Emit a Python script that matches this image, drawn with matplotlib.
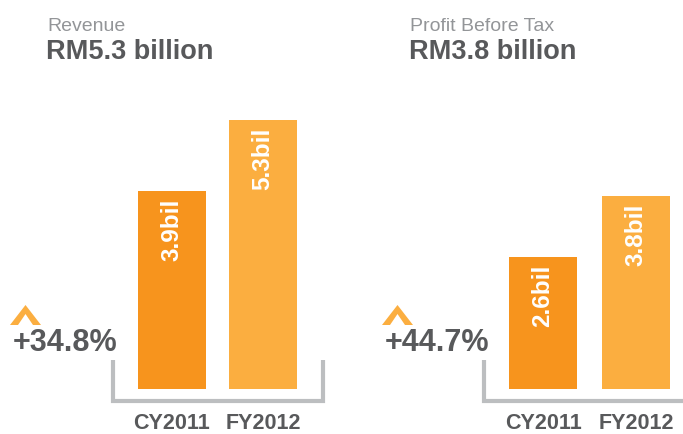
import matplotlib
matplotlib.use("Agg")
import matplotlib.pyplot as plt
from matplotlib.patches import Polygon

# Data
periods = ["CY2011", "FY2012"]
revenue = [3.9, 5.3]
pbt = [2.6, 3.8]
revenue_labels = ["3.9bil", "5.3bil"]
pbt_labels = ["2.6bil", "3.8bil"]
growth = ["+34.8%", "+44.7%"]
titles = ["Revenue", "Profit Before Tax"]
headlines = ["RM5.3 billion", "RM3.8 billion"]

W, H = 683, 434
DARK = "#58595b"
LIGHT = "#939598"
GREY = "#bcbec0"
BAR_COLORS = ["#f7941d", "#fbae40"]
FONT = "Liberation Sans"

plt.rcParams["font.family"] = FONT

fig = plt.figure(figsize=(W / 100, H / 100), dpi=100)

PX_PER_BIL = 50.7
BASE_Y = 389  # pixel row of the bar baseline
TOP_Y = 100


def panel(left_px, right_px, first_px, step_px, values, labels):
    ax = fig.add_axes([left_px / W, (H - BASE_Y) / H,
                       (right_px - left_px) / W, (BASE_Y - TOP_Y) / H])
    ax.set_xlim(-(first_px - left_px) / step_px, (right_px - first_px) / step_px)
    ax.set_ylim(0, (BASE_Y - TOP_Y) / PX_PER_BIL)
    bars = ax.bar(range(len(values)), values, width=68 / step_px,
                  color=BAR_COLORS)
    for b, lab in zip(bars, labels):
        ax.annotate(lab, (b.get_x() + b.get_width() / 2, b.get_height()),
                    xytext=(0, -7), textcoords="offset pixels",
                    rotation=90, ha="center", va="top", color="white",
                    fontsize=17.5, fontweight="bold")
    ax.set_xticks(range(len(periods)), periods)
    ax.tick_params(axis="x", length=0, pad=17, labelsize=15.5,
                   labelcolor=DARK)
    for lab in ax.get_xticklabels():
        lab.set_fontweight("bold")
    ax.set_yticks([])
    for s in ax.spines.values():
        s.set_visible(False)
    ax.patch.set_visible(False)
    return ax


panel(100, 340, 172, 91, revenue, revenue_labels)
panel(470, 683, 543, 93, pbt, pbt_labels)

# overlay in pixel coordinates for headings, brackets and growth figures
ov = fig.add_axes([0, 0, 1, 1])
ov.set_xlim(0, W)
ov.set_ylim(H, 0)
ov.axis("off")

for x0, t, h in zip([47, 410], titles, headlines):
    ov.text(x0, 31, t, fontsize=14, color=LIGHT, va="baseline")
    ov.text(x0 - 1, 59, h, fontsize=19.5, color=DARK, fontweight="bold",
            va="baseline")

# brackets under the bars
ov.plot([113, 113, 323, 323], [360, 401, 401, 360], color=GREY, lw=3,
        solid_joinstyle="miter", solid_capstyle="butt")
ov.plot([484, 484, 690], [360, 401, 401], color=GREY, lw=3,
        solid_joinstyle="miter", solid_capstyle="butt")

# growth figure with the caret above it
for x0, g in zip([10, 382], growth):
    ov.text(x0 + 3, 351, g, fontsize=22, color=DARK, fontweight="bold",
            va="baseline")
    cx = x0 + 15.5
    ov.add_patch(Polygon([(x0, 325), (cx, 305), (x0 + 31, 325),
                          (x0 + 23, 325), (cx, 314), (x0 + 8, 325)],
                         closed=True, color="#fbae40", lw=0))

fig.savefig("out.png", dpi=100)
